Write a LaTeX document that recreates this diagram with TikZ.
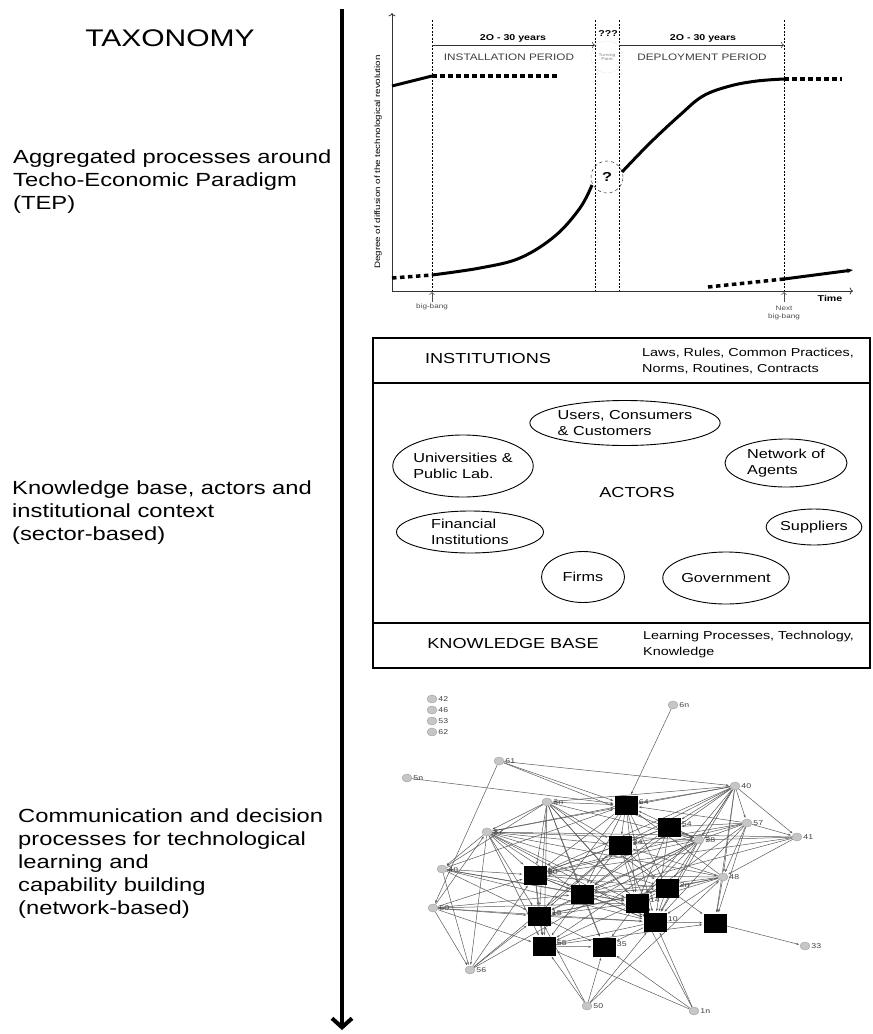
\documentclass[tikz,border=0pt]{standalone}
\usepackage{fontspec}
\setmainfont{Liberation Sans}[FakeStretch=1.25]
\usetikzlibrary{arrows.meta,shapes.geometric}
\pgfdeclarelayer{bg}
\pgfsetlayers{bg,main}
\begin{document}
\begin{tikzpicture}[x=1pt, y=-1pt,
  side text/.style={font=\fontsize{19}{23}\selectfont, align=left, anchor=west, inner sep=0pt},
  head text/.style={font=\fontsize{14.5}{17}\selectfont, inner sep=0pt},
  small text/.style={font=\fontsize{11.5}{16}\selectfont, align=left, anchor=west, inner sep=0pt},
  actor node/.style={ellipse, draw, line width=0.9pt, inner sep=0pt, align=left, font=\fontsize{13}{16}\selectfont},
  chart bold/.style={font=\bfseries\fontsize{8.5}{10}\selectfont, inner sep=0pt},
  period text/.style={font=\fontsize{9.4}{11}\selectfont, text=black!75, inner sep=0pt},
  tiny text/.style={font=\fontsize{6.5}{7.5}\selectfont, text=black!70, align=center, inner sep=0pt},
  fat curve/.style={line width=3pt},
  fat dots/.style={line width=3.5pt, dash pattern=on 4.5pt off 3.5pt},
  dotted vline/.style={line width=1pt, dash pattern=on 2pt off 1.5pt},
  gray node/.style={ellipse, fill=gray!45, draw=gray!75, minimum width=10pt, minimum height=8pt, inner sep=0pt, label={[net label]right:#1}},
  square node/.style={rectangle, fill=black, minimum width=23pt, minimum height=19pt, inner sep=0pt},
  sq label/.style={label={[net label, yshift=3pt]right:#1}},
  net label/.style={font=\fontsize{7}{8}\selectfont, text=black!75, inner sep=1pt},
  net edge/.style={draw=black!65, line width=0.5pt, -{Stealth[length=3pt,width=2pt]}, shorten >=1pt}]
\useasboundingbox (0,0) rectangle (873,1034);

% taxonomy axis and left column
\coordinate (ttop) at (342,9);
\coordinate (tbot) at (342,1030);
\draw [line width=4pt, -{Straight Barb[length=9pt, width=20pt]}] (ttop) -- (tbot);
\node [font=\fontsize{24}{28}\selectfont] (title) at (170,38) {TAXONOMY};
\node [side text] (tep) at (13,182) {Aggregated processes around\\Techo-Economic Paradigm\\(TEP)};
\node [side text] (sector) at (12,513) {Knowledge base, actors and\\institutional context\\(sector-based)};
\node [side text] (network) at (18,864) {Communication and decision\\processes for technological\\learning and\\capability building\\(network-based)};

% surge chart
\coordinate (o) at (392,291);
\coordinate (ytop) at (392,13);
\coordinate (xend) at (853,291);
\draw [black!80, line width=0.8pt, ->] (o) -- (ytop);
\draw [black!80, line width=0.8pt, ->] (o) -- (xend);
\foreach \x in {432,595,619,784}
  \draw [dotted vline] (\x,20) -- (\x,291);
\draw [black!80, line width=0.6pt, ->] (432,45) -- (595,45);
\draw [black!80, line width=0.6pt, ->] (619,45) -- (784,45);
\node [chart bold] (yrs1) at (513,38) {2O - 30 years};
\node [chart bold] (yrs2) at (703,38) {2O - 30 years};
\node [chart bold] (qqq) at (608,34) {???};
\node [period text] (inst) at (509,57) {INSTALLATION PERIOD};
\node [period text] (depl) at (702,57) {DEPLOYMENT PERIOD};
\node [circle, draw=gray!50, densely dotted, minimum size=32pt, inner sep=0pt, align=center,
  font=\fontsize{4}{4.5}\selectfont, text=gray] (turn) at (607,57) {Turning\\Point};
\node [circle, draw, dashed, minimum size=32pt, inner sep=0pt, font=\bfseries\fontsize{13}{14}\selectfont] (q) at (607,177) {?};
\node [rotate=90, font=\fontsize{7.8}{9}\selectfont] (ylab) at (378,162) {Degree of diffusion of the technological revolution};
\draw [fat curve] (392,86) -- (432,76);
\draw [fat dots] (432,76) -- (558,76);
\draw [fat dots] (392,278) -- (432,275);
\draw [fat curve] plot [smooth, tension=0.6] coordinates {(432,275) (480,268) (520,258) (555,236) (580,208) (592,185)};
\draw [fat curve] plot [smooth, tension=0.6] coordinates {(622,172) (650,143) (680,115) (703,96) (730,86) (757,81) (784,79)};
\draw [fat dots] (784,79) -- (842,79);
\draw [fat dots] (708,287) -- (784,279);
\draw [fat curve, -{Stealth[length=6pt]}] (784,279) -- (853,270);
\draw [black!70, line width=0.5pt, ->] (432,302) -- (432,292);
\draw [black!70, line width=0.5pt, ->] (784,302) -- (784,292);
\node [tiny text] (bang) at (432,307) {big-bang};
\node [tiny text] (nbang) at (784,313) {Next\\big-bang};
\node [chart bold] (time) at (830,298) {Time};

% sectoral system box
\draw [line width=1.2pt] (373,338) rectangle (870,668);
\draw [line width=1.2pt] (373,383) -- (870,383);
\draw [line width=1.2pt] (373,623) -- (870,623);
\node [head text] (instit) at (488,359) {INSTITUTIONS};
\node [small text] (laws) at (642,361) {Laws, Rules, Common Practices,\\Norms, Routines, Contracts};
\node [head text] (actors) at (637,493) {ACTORS};
\node [head text] (kbase) at (513,643) {KNOWLEDGE BASE};
\node [small text] (learn) at (643,645) {Learning Processes, Technology,\\Knowledge};
\node [actor node, minimum width=177pt, minimum height=45pt] (users) at (625,423) {Users, Consumers\\\& Customers};
\node [actor node, minimum width=133pt, minimum height=62pt] (univ) at (463,466) {Universities \&\\Public Lab.};
\node [actor node, minimum width=122pt, minimum height=48pt] (agents) at (786,463) {Network of\\Agents};
\node [actor node, minimum width=147pt, minimum height=42pt] (finance) at (470,532) {Financial\\Institutions};
\node [actor node, minimum width=89pt, minimum height=36pt] (suppl) at (814,527) {Suppliers};
\node [actor node, minimum width=83pt, minimum height=51pt] (firms) at (583,577) {Firms};
\node [actor node, minimum width=122pt, minimum height=52pt] (gov) at (726,578) {Government};

% network
\node [gray node=42] (c42) at (432,699) {};
\node [gray node=46] (c46) at (432,710) {};
\node [gray node=53] (c53) at (432,721) {};
\node [gray node=62] (c62) at (432,732) {};
\node [gray node=6n] (n6) at (673,705) {};
\node [gray node=61] (n61) at (499,761) {};
\node [gray node=5n] (n5) at (407,778) {};
\node [gray node=40] (n40) at (735,786) {};
\node [gray node=3n] (n3) at (547,802) {};
\node [gray node=57] (n57) at (747,823) {};
\node [gray node=41] (n41) at (797,837) {};
\node [gray node=37] (n37) at (487,832) {};
\node [gray node=38] (n38) at (699,840) {};
\node [gray node=4n] (n4) at (442,869) {};
\node [gray node=48] (n48) at (723,877) {};
\node [gray node=60] (n60) at (433,908) {};
\node [gray node=33] (n33) at (805,946) {};
\node [gray node=56] (n56) at (470,970) {};
\node [gray node=50] (n50) at (587,1006) {};
\node [gray node=1n] (n1) at (694,1011) {};
\node [square node, sq label=64] (s64) at (626,805) {};
\node [square node, sq label=54] (s54) at (669,827) {};
\node [square node, sq label=34] (s34) at (620,845) {};
\node [square node, sq label=30] (s30) at (535,875) {};
\node [square node] (sX) at (582,894) {};
\node [square node, sq label=2n] (s2) at (667,888) {};
\node [square node, sq label=14] (s14) at (637,903) {};
\node [square node, sq label=15] (s15) at (539,916) {};
\node [square node, sq label=10] (s10) at (655,922) {};
\node [square node] (sY) at (715,923) {};
\node [square node, sq label=55] (s55) at (544,946) {};
\node [square node, sq label=35] (s35) at (604,947) {};

\begin{pgfonlayer}{bg}
\path [net edge] (n6) edge (s64);
\path [net edge] (n5) edge (s64);
\path [net edge] (n61) edge (n40) edge (n60) edge (s64) edge (n38);
\path [net edge] (n40) edge (s64) edge (s54) edge (s34) edge (n38) edge (n57) edge (n41) edge (n48)
  edge (s2) edge (s14) edge (s10) edge (sY) edge (n3) edge (n37) edge (s30) edge (sX);
\path [net edge] (n3) edge (s64) edge (s34) edge (s30) edge (sX) edge (s15) edge (s55) edge (s14)
  edge (s10) edge (n38) edge (n37) edge (n4) edge (s2) edge (s35);
\path [net edge] (n37) edge (s64) edge (s34) edge (s30) edge (s15) edge (s55) edge (sX) edge (s14)
  edge (s10) edge (n38) edge (n48) edge (n4) edge (s2) edge (n56);
\path [net edge] (n4) edge (s30) edge (sX) edge (s15) edge (s10) edge (s14) edge (n56) edge (s64);
\path [net edge] (n60) edge (s30) edge (s15) edge (sX) edge (s14) edge (s10) edge (n56) edge (s55) edge (n37);
\path [net edge] (n56) edge (s30) edge (s15) edge (n38) edge (s34);
\path [net edge] (n50) edge (s55) edge (s10) edge (n48) edge (s15) edge (s35);
\path [net edge] (n1) edge (s10) edge (s35) edge (s55) edge (s14);
\path [net edge] (sY) edge (n33);
\path [net edge] (n38) edge (s30) edge (sX) edge (s15) edge (s55) edge (s14) edge (s10) edge (s34) edge (s64) edge (s54);
\path [net edge] (n57) edge (s64) edge (s34) edge (s30) edge (s14) edge (s10) edge (sY) edge (n38) edge (n41) edge (s54) edge (n48);
\path [net edge] (n41) edge (n38) edge (n48) edge (sX) edge (n37) edge (s30);
\path [net edge] (n48) edge (sY) edge (s10) edge (s14) edge (s2) edge (s30) edge (sX) edge (s15) edge (s34) edge (s64);
\path [net edge] (s64) edge (s34) edge (s30) edge (sX) edge (s14) edge (s10) edge (s15) edge (s2);
\path [net edge] (s54) edge (s34) edge (s30) edge (s10) edge (s14) edge (sX);
\path [net edge] (s34) edge (s30) edge (sX) edge (s14) edge (s10) edge (s15) edge (s2);
\path [net edge] (s30) edge (sX) edge (s15) edge (s14) edge (s10) edge (s55) edge (s2);
\path [net edge] (sX) edge (s15) edge (s14) edge (s10) edge (s55) edge (s35) edge (s2);
\path [net edge] (s2) edge (s14) edge (s10) edge (sY) edge (s15);
\path [net edge] (s14) edge (s10) edge (s15) edge (s55) edge (s35);
\path [net edge] (s15) edge (s10) edge (s55) edge (s35);
\path [net edge] (s10) edge (sY) edge (s55) edge (s35);
\path [net edge] (s55) edge (s35) edge (sY);
\end{pgfonlayer}
\end{tikzpicture}
\end{document}
